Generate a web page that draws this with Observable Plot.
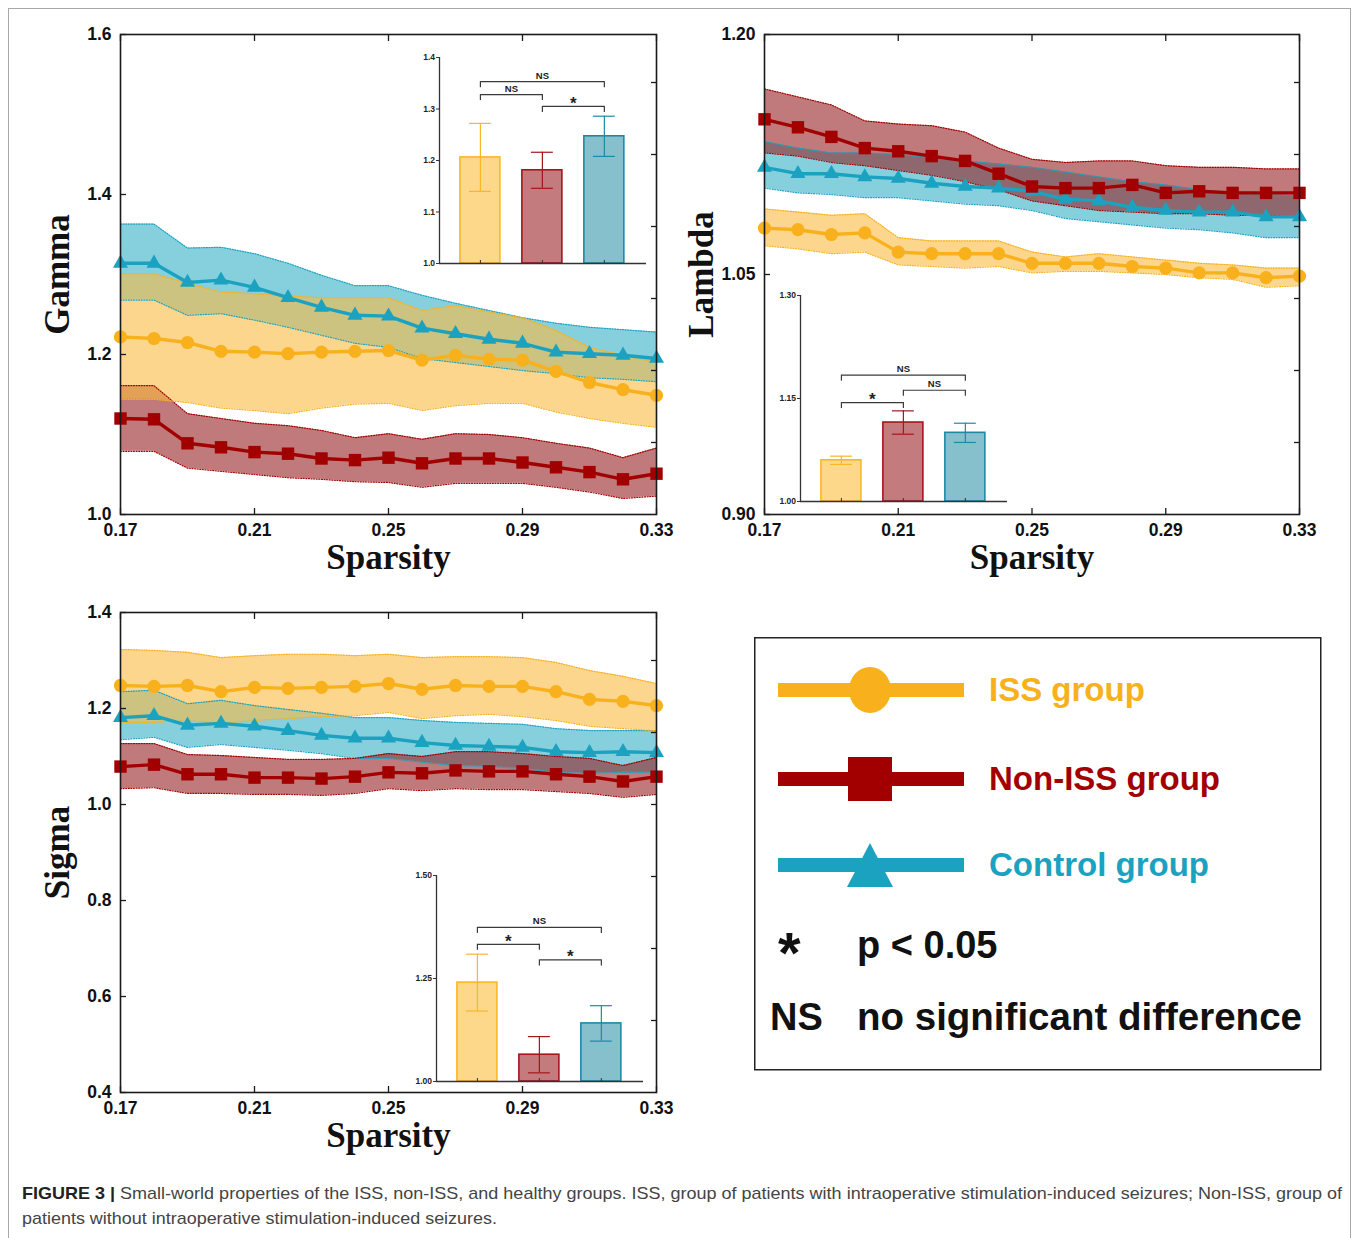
<!DOCTYPE html>
<html><head><meta charset="utf-8">
<script src="https://cdn.jsdelivr.net/npm/d3@7"></script>
<script src="https://cdn.jsdelivr.net/npm/@observablehq/plot@0.6"></script>
<style>
html,body{margin:0;padding:0;background:#fff;}
#root{position:relative;width:1358px;height:1238px;overflow:hidden;background:#fff;}
</style></head><body><div id="root"></div>
<script>
// ---------------- DATA ----------------
const sparsity = [0.17,0.18,0.19,0.20,0.21,0.22,0.23,0.24,0.25,0.26,0.27,0.28,0.29,0.30,0.31,0.32,0.33];
const xTicks = [0.17,0.21,0.25,0.29,0.33];

// Gamma
const gammaISS   = [1.222,1.220,1.215,1.204,1.203,1.201,1.203,1.204,1.205,1.193,1.199,1.194,1.193,1.179,1.165,1.156,1.149];
const gammaISSLo = [1.144,1.144,1.140,1.133,1.130,1.126,1.133,1.138,1.139,1.130,1.136,1.139,1.139,1.128,1.120,1.114,1.109];
const gammaISSHi = [1.301,1.301,1.289,1.278,1.276,1.273,1.271,1.271,1.271,1.255,1.261,1.253,1.246,1.230,1.209,1.199,1.190];
const gammaNon   = [1.120,1.119,1.089,1.084,1.078,1.076,1.070,1.068,1.071,1.064,1.070,1.070,1.065,1.059,1.053,1.044,1.051];
const gammaNonLo = [1.079,1.079,1.058,1.054,1.050,1.046,1.044,1.041,1.040,1.034,1.039,1.039,1.039,1.034,1.028,1.020,1.023];
const gammaNonHi = [1.161,1.161,1.126,1.120,1.114,1.111,1.105,1.096,1.101,1.094,1.101,1.100,1.096,1.089,1.083,1.071,1.083];
const gammaCtl   = [1.314,1.314,1.290,1.293,1.284,1.271,1.259,1.249,1.248,1.233,1.226,1.219,1.214,1.203,1.201,1.199,1.195];
const gammaCtlLo = [1.268,1.268,1.249,1.251,1.243,1.234,1.224,1.214,1.209,1.195,1.190,1.185,1.180,1.176,1.171,1.169,1.166];
const gammaCtlHi = [1.363,1.363,1.333,1.334,1.326,1.314,1.299,1.286,1.286,1.274,1.264,1.255,1.246,1.239,1.234,1.231,1.228];
const gammaTicks = [1.0,1.2,1.4,1.6];
const gammaRightTicks = [1.09,1.18,1.27,1.36,1.45,1.54];

// Lambda
const lambdaISS   = [1.079,1.078,1.075,1.076,1.064,1.063,1.063,1.063,1.057,1.057,1.057,1.055,1.054,1.051,1.051,1.048,1.049];
const lambdaISSLo = [1.068,1.066,1.063,1.064,1.056,1.055,1.054,1.055,1.051,1.052,1.052,1.051,1.050,1.048,1.047,1.042,1.043];
const lambdaISSHi = [1.091,1.089,1.087,1.088,1.073,1.071,1.071,1.071,1.064,1.061,1.063,1.061,1.059,1.057,1.056,1.054,1.054];
const lambdaNon   = [1.147,1.142,1.136,1.129,1.127,1.124,1.121,1.113,1.105,1.104,1.104,1.106,1.101,1.102,1.101,1.101,1.101];
const lambdaNonLo = [1.126,1.124,1.120,1.118,1.115,1.112,1.108,1.103,1.096,1.093,1.090,1.089,1.088,1.088,1.087,1.087,1.086];
const lambdaNonHi = [1.166,1.161,1.156,1.146,1.144,1.143,1.139,1.129,1.122,1.120,1.121,1.121,1.118,1.117,1.117,1.116,1.116];
const lambdaCtl   = [1.117,1.113,1.113,1.111,1.110,1.107,1.105,1.104,1.102,1.097,1.096,1.092,1.090,1.089,1.089,1.086,1.086];
const lambdaCtlLo = [1.104,1.101,1.100,1.098,1.098,1.096,1.094,1.093,1.090,1.085,1.083,1.081,1.079,1.078,1.076,1.073,1.073];
const lambdaCtlHi = [1.133,1.129,1.126,1.126,1.125,1.123,1.121,1.119,1.117,1.114,1.111,1.108,1.106,1.103,1.101,1.100,1.099];
const lambdaTicks = [0.90,1.05,1.20];
const lambdaRightTicks = [0.945,0.99,1.035,1.08,1.125,1.17];

// Sigma
const sigmaISS   = [1.248,1.246,1.248,1.235,1.244,1.242,1.244,1.246,1.252,1.240,1.248,1.246,1.246,1.235,1.219,1.215,1.206];
const sigmaISSLo = [1.171,1.171,1.175,1.169,1.175,1.179,1.183,1.185,1.192,1.179,1.185,1.188,1.183,1.175,1.163,1.158,1.154];
const sigmaISSHi = [1.323,1.321,1.317,1.306,1.310,1.313,1.313,1.310,1.313,1.306,1.308,1.308,1.306,1.296,1.279,1.267,1.252];
const sigmaNon   = [1.079,1.083,1.063,1.063,1.056,1.056,1.054,1.058,1.067,1.065,1.071,1.069,1.069,1.063,1.058,1.048,1.058];
const sigmaNonLo = [1.033,1.035,1.023,1.023,1.021,1.021,1.019,1.023,1.033,1.029,1.033,1.031,1.031,1.027,1.023,1.015,1.021];
const sigmaNonHi = [1.127,1.127,1.104,1.102,1.098,1.094,1.094,1.096,1.106,1.100,1.110,1.110,1.106,1.100,1.096,1.081,1.098];
const sigmaCtl   = [1.181,1.185,1.165,1.169,1.163,1.154,1.144,1.138,1.138,1.129,1.123,1.121,1.119,1.110,1.108,1.110,1.108];
const sigmaCtlLo = [1.135,1.140,1.119,1.125,1.119,1.113,1.106,1.096,1.096,1.088,1.081,1.079,1.075,1.067,1.065,1.067,1.067];
const sigmaCtlHi = [1.235,1.238,1.210,1.217,1.206,1.198,1.190,1.181,1.181,1.175,1.171,1.169,1.167,1.158,1.154,1.154,1.154];
const sigmaTicks = [0.4,0.6,0.8,1.0,1.2,1.4];
const sigmaRightTicks = [0.55,0.70,0.85,1.00,1.15,1.30];

// Inset bar charts
const groups = ["ISS","Non-ISS","Control"];
const groupPos = [1,2,3];
const gammaBarMean = [1.206,1.181,1.247];
const gammaBarErr  = [0.066,0.035,0.039];
const lambdaBarMean = [1.060,1.115,1.100];
const lambdaBarErr  = [0.006,0.017,0.014];
const sigmaBarMean = [1.240,1.065,1.141];
const sigmaBarErr  = [0.069,0.044,0.043];
const gammaInsetTicks = [1.0,1.1,1.2,1.3,1.4];
const lambdaInsetTicks = [1.00,1.15,1.30];
const sigmaInsetTicks = [1.00,1.25,1.50];
const gammaBrackets = [
  {a:1,b:3,level:1.353,label:"NS"},
  {a:1,b:2,level:1.328,label:"NS"},
  {a:2,b:3,level:1.305,label:"*"}];
const lambdaBrackets = [
  {a:1,b:3,level:1.184,label:"NS"},
  {a:2,b:3,level:1.162,label:"NS"},
  {a:1,b:2,level:1.144,label:"*"}];
const sigmaBrackets = [
  {a:1,b:3,level:1.374,label:"NS"},
  {a:1,b:2,level:1.333,label:"*"},
  {a:2,b:3,level:1.295,label:"*"}];

const legendLabels = ["ISS group","Non-ISS group","Control group"];

// ---------------- STYLE ----------------
const SANS = "'Liberation Sans', Arial, Helvetica, sans-serif";
const SERIF = "'Liberation Serif', 'Times New Roman', serif";
const lineColor = {ISS:"#f8b11c", Non:"#a20000", Ctl:"#1ba2c1"};
const bandFill  = {ISS:"#fabb3f", Non:"#962123", Ctl:"#35b1c8"};
const symbol = {ISS:"circle", Non:"square", Ctl:"triangle"};
const symR   = {ISS:6.6, Non:7.0, Ctl:5.6};
const barFill   = ["#fdd88b","#c47b7d","#86c0cc"];
const barStroke = ["#fbb625","#a3161b","#1c8aa6"];

const root = document.getElementById("root");
function place(el, left, top) {
  el.style.position = "absolute";
  el.style.left = left + "px";
  el.style.top = top + "px";
  root.appendChild(el);
}
function rows(m, lo, hi) { return sparsity.map((s,i)=>({s, m:m[i], lo:lo[i], hi:hi[i]})); }

function mainPanel({series, yDomain, yTicks, yFormat, rightTicks, ylabel, width}) {
  const marks = [];
  const bandOrder = ["Ctl","Non","ISS"];
  for (const k of bandOrder)
    marks.push(Plot.areaY(series[k], {x:"s", y1:"lo", y2:"hi", fill:bandFill[k], fillOpacity:0.6}));
  for (const k of bandOrder) for (const f of ["lo","hi"])
    marks.push(Plot.line(series[k], {x:"s", y:f, stroke:lineColor[k], strokeWidth:1.2, strokeDasharray:"1,1.6"}));
  for (const k of ["Ctl","ISS","Non"]) {
    marks.push(Plot.line(series[k], {x:"s", y:"m", stroke:lineColor[k], strokeWidth:3.4}));
    marks.push(Plot.dot(series[k], {x:"s", y:"m", symbol:symbol[k], r:symR[k], fill:lineColor[k]}));
  }
  marks.push(Plot.frame({stroke:"#1a1a1a", strokeWidth:1.6}));
  marks.push(Plot.axisX({ticks:xTicks, tickSize:-6, fill:"none", label:null, stroke:"#1a1a1a", strokeWidth:1.3}));
  marks.push(Plot.axisX({anchor:"top", ticks:xTicks, tickSize:-6, fill:"none", label:null, stroke:"#1a1a1a", strokeWidth:1.3}));
  marks.push(Plot.axisY({ticks:yTicks, tickSize:-6, fill:"none", label:null, stroke:"#1a1a1a", strokeWidth:1.3}));
  marks.push(Plot.axisY({anchor:"right", ticks:rightTicks, tickSize:-6, fill:"none", label:null, stroke:"#1a1a1a", strokeWidth:1.3}));
  marks.push(Plot.axisX({ticks:xTicks, tickSize:0, tickPadding:9, tickFormat:d3.format(".2f"), label:null,
    fontSize:17.5, fontWeight:"bold", fontFamily:SANS, fill:"#111"}));
  marks.push(Plot.axisY({ticks:yTicks, tickSize:0, tickPadding:9, tickFormat:yFormat, label:null,
    fontSize:17.5, fontWeight:"bold", fontFamily:SANS, fill:"#111"}));
  marks.push(Plot.text([ylabel], {text:d=>d, frameAnchor:"left", textAnchor:"middle", lineAnchor:"middle", dx:-63, rotate:-90,
    fontFamily:SERIF, fontSize:35, fontWeight:"bold", fill:"#111"}));
  marks.push(Plot.text(["Sparsity"], {text:d=>d, frameAnchor:"bottom", textAnchor:"middle", lineAnchor:"bottom", dy:54,
    fontFamily:SERIF, fontSize:35, fontWeight:"bold", fill:"#111"}));
  return Plot.plot({
    width, height:580, marginLeft:120, marginRight:24, marginTop:34, marginBottom:66,
    x:{domain:[0.17,0.33]}, y:{domain:yDomain},
    style:{background:"transparent", fontFamily:SANS, color:"#111", overflow:"visible"},
    marks
  });
}

const xInsetDomain = [0.34, 3.68];
const barHalf = 0.3226, capHalf = 0.177;
function insetPanel({mean, err, yDomain, yTicks, yFormat, brackets}) {
  const innerH = 206;
  const data = groups.map((g,i)=>({g, pos:groupPos[i], m:mean[i], lo:mean[i]-err[i], hi:mean[i]+err[i], fill:barFill[i], stroke:barStroke[i]}));
  const base = yDomain[0];
  const unitPerPx = (yDomain[1]-yDomain[0]) / innerH;
  const legLen = 6 * unitPerPx;
  const legs = brackets.flatMap(b => [{x:b.a, y:b.level}, {x:b.b, y:b.level}]);
  const marks = [
    Plot.rectY(data, {x1:d=>d.pos-barHalf, x2:d=>d.pos+barHalf, y1:base, y2:"m", fill:"fill", stroke:"stroke", strokeWidth:1.6}),
    Plot.ruleX(data, {x:"pos", y1:"lo", y2:"hi", stroke:"stroke", strokeWidth:1.2}),
    Plot.ruleY(data, {y:"lo", x1:d=>d.pos-capHalf, x2:d=>d.pos+capHalf, stroke:"stroke", strokeWidth:1.2}),
    Plot.ruleY(data, {y:"hi", x1:d=>d.pos-capHalf, x2:d=>d.pos+capHalf, stroke:"stroke", strokeWidth:1.2}),
    Plot.ruleY([base], {stroke:"#333", strokeWidth:1.3}),
    Plot.ruleX([xInsetDomain[0]], {stroke:"#333", strokeWidth:1.3}),
    Plot.axisX({ticks:groupPos, tickSize:-3, fill:"none", label:null, stroke:"#333"}),
    Plot.axisY({ticks:yTicks, tickSize:3, tickPadding:1.5, tickFormat:yFormat, label:null,
      fontSize:8.5, fontWeight:"bold", fontFamily:SANS, fill:"#222", stroke:"#333"}),
    Plot.link(brackets, {x1:"a", x2:"b", y1:"level", y2:"level", stroke:"#3a3a3a", strokeWidth:1.2}),
    Plot.ruleX(legs, {x:"x", y1:"y", y2:d=>d.y-legLen, stroke:"#3a3a3a", strokeWidth:1.2}),
    Plot.text(brackets.filter(b=>b.label==="NS"), {x:d=>(d.a+d.b)/2, y:"level", text:"label", dy:-6,
      fontSize:9.5, fontWeight:"bold", fontFamily:SANS, fill:"#222"}),
    Plot.text(brackets.filter(b=>b.label==="*"), {x:d=>(d.a+d.b)/2, y:"level", text:"label", dy:-3,
      fontSize:17, fontWeight:"bold", fontFamily:SANS, fill:"#222"})
  ];
  return Plot.plot({
    width:237, height:222, marginLeft:26, marginRight:4, marginTop:8, marginBottom:8,
    x:{domain:xInsetDomain}, y:{domain:yDomain}, color:{type:"identity"},
    style:{background:"transparent", fontFamily:SANS, overflow:"visible"},
    marks
  });
}

// ---------------- BUILD ----------------
const border = document.createElement("div");
border.style.cssText = "position:absolute;left:8px;top:8px;width:1341px;height:1300px;border:1px solid #a8a8a8;";
root.appendChild(border);

const gammaPlot = mainPanel({
  series:{ISS:rows(gammaISS,gammaISSLo,gammaISSHi), Non:rows(gammaNon,gammaNonLo,gammaNonHi), Ctl:rows(gammaCtl,gammaCtlLo,gammaCtlHi)},
  yDomain:[1.0,1.6], yTicks:gammaTicks, yFormat:d3.format(".1f"), rightTicks:gammaRightTicks, ylabel:"Gamma", width:680});
place(gammaPlot, 0, 0);

const lambdaPlot = mainPanel({
  series:{ISS:rows(lambdaISS,lambdaISSLo,lambdaISSHi), Non:rows(lambdaNon,lambdaNonLo,lambdaNonHi), Ctl:rows(lambdaCtl,lambdaCtlLo,lambdaCtlHi)},
  yDomain:[0.90,1.20], yTicks:lambdaTicks, yFormat:d3.format(".2f"), rightTicks:lambdaRightTicks, ylabel:"Lambda", width:679});
place(lambdaPlot, 644, 0);

const sigmaPlot = mainPanel({
  series:{ISS:rows(sigmaISS,sigmaISSLo,sigmaISSHi), Non:rows(sigmaNon,sigmaNonLo,sigmaNonHi), Ctl:rows(sigmaCtl,sigmaCtlLo,sigmaCtlHi)},
  yDomain:[0.4,1.4], yTicks:sigmaTicks, yFormat:d3.format(".1f"), rightTicks:sigmaRightTicks, ylabel:"Sigma", width:680});
place(sigmaPlot, 0, 578);

place(insetPanel({mean:gammaBarMean, err:gammaBarErr, yDomain:[1.0,1.4], yTicks:gammaInsetTicks, yFormat:d3.format(".1f"), brackets:gammaBrackets}), 413, 49);
place(insetPanel({mean:lambdaBarMean, err:lambdaBarErr, yDomain:[1.0,1.3], yTicks:lambdaInsetTicks, yFormat:d3.format(".2f"), brackets:lambdaBrackets}), 774, 287);
place(insetPanel({mean:sigmaBarMean, err:sigmaBarErr, yDomain:[1.0,1.5], yTicks:sigmaInsetTicks, yFormat:d3.format(".2f"), brackets:sigmaBrackets}), 410, 867);

// Legend
(function(){
  const svg = d3.create("svg").attr("width",568).attr("height",434).style("overflow","visible");
  svg.append("rect").attr("x",0.75).attr("y",0.75).attr("width",566).attr("height",432)
    .attr("fill","#fff").attr("stroke","#222").attr("stroke-width",1.5);
  const keys = ["ISS","Non","Ctl"];
  const ys = [53,142,228];
  keys.forEach((k,i)=>{
    const y = ys[i];
    svg.append("line").attr("x1",24).attr("x2",210).attr("y1",y).attr("y2",y)
      .attr("stroke",lineColor[k]).attr("stroke-width",14);
    if (k==="ISS") svg.append("ellipse").attr("cx",116).attr("cy",y).attr("rx",21).attr("ry",23).attr("fill",lineColor[k]);
    if (k==="Non") svg.append("rect").attr("x",94).attr("y",y-22).attr("width",44).attr("height",44).attr("fill",lineColor[k]);
    if (k==="Ctl") svg.append("path").attr("d",`M116,${y-22}L139,${y+22}L93,${y+22}Z`).attr("fill",lineColor[k]);
    svg.append("text").attr("x",235).attr("y",y+11).text(legendLabels[i])
      .attr("fill",lineColor[k]).attr("font-family",SANS).attr("font-weight","bold").attr("font-size",33);
  });
  const t = (x,y,s,fs)=>svg.append("text").attr("x",x).attr("y",y).text(s).attr("fill","#111")
      .attr("font-family",SANS).attr("font-weight","bold").attr("font-size",fs);
  t(24,336,"*",58);
  t(103,321,"p < 0.05",38);
  t(16,393,"NS",38);
  t(103,393,"no significant difference",38.5);
  place(svg.node(), 754, 637);
})();

// Caption
(function(){
  const svg = d3.create("svg").attr("width",1358).attr("height",68);
  const l1 = svg.append("text").attr("x",22).attr("y",29).attr("font-family",SANS).attr("font-size",17)
    .attr("fill","#444").attr("textLength",1320).attr("lengthAdjust","spacingAndGlyphs");
  l1.append("tspan").attr("font-weight","bold").attr("fill","#222").text("FIGURE 3 |");
  l1.append("tspan").text(" Small-world properties of the ISS, non-ISS, and healthy groups. ISS, group of patients with intraoperative stimulation-induced seizures; Non-ISS, group of");
  svg.append("text").attr("x",22).attr("y",54).attr("font-family",SANS).attr("font-size",17)
    .attr("fill","#444").attr("textLength",475).attr("lengthAdjust","spacingAndGlyphs")
    .text("patients without intraoperative stimulation-induced seizures.");
  place(svg.node(), 0, 1170);
})();
</script></body></html>
